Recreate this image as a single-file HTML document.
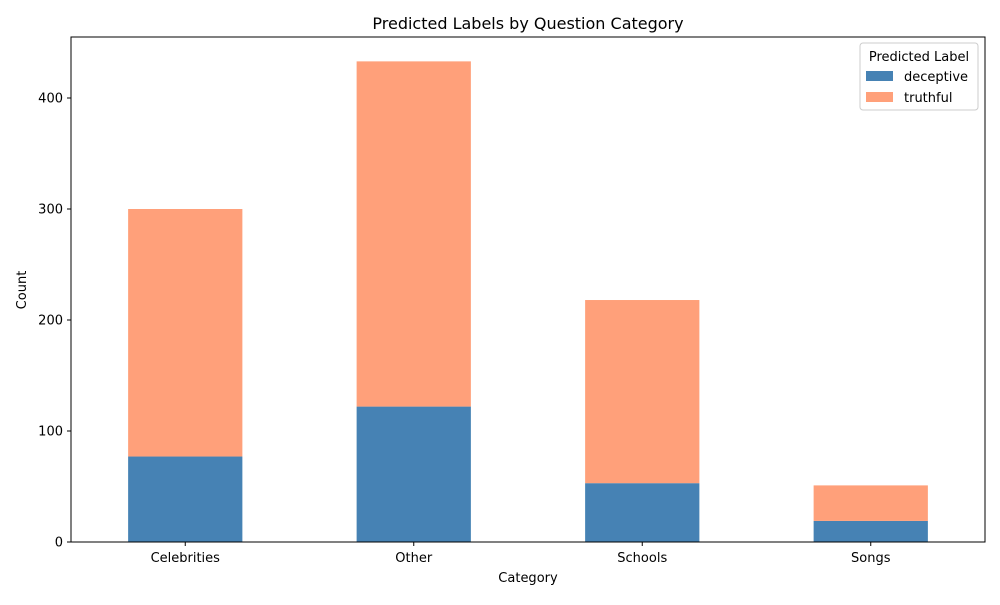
<!DOCTYPE html>
<html><head><meta charset="utf-8"><style>
body{margin:0;background:#fff;}
svg{font-family:"DejaVu Sans","Liberation Sans",sans-serif;}
</style></head><body>
<svg id="chart" width="1000" height="600">
<rect width="1000" height="600" fill="#fff"/>
<text x="528" y="29" text-anchor="middle" font-size="16">Predicted Labels by Question Category</text>
<g id="yaxis"></g><g id="bars"></g><g id="xaxis"></g>
<rect x="71" y="37" width="914" height="505" fill="none" stroke="#000" stroke-width="1"/>
<text x="528" y="582" text-anchor="middle" font-size="13">Category</text>
<text x="26" y="290" text-anchor="middle" font-size="13" transform="rotate(-90 26 290)">Count</text>
<g>
<rect x="860" y="43" width="118" height="67" fill="#fff" stroke="#ccc" rx="3"/>
<text x="919" y="61" text-anchor="middle" font-size="13">Predicted Label</text>
<g><rect x="866" y="71" width="27" height="10" fill="#4682b4"/><text x="904" y="81" font-size="13">deceptive</text></g>
<g><rect x="866" y="92" width="27" height="10" fill="#ffa07a"/><text x="904" y="102" font-size="13">truthful</text></g>
</g>
</svg>
<script>
const categories=["Celebrities","Other","Schools","Songs"];
const deceptive=[77,122,53,19];
const truthful=[223,311,165,32];
const yTicks=[0,100,200,300,400];
const ns="http://www.w3.org/2000/svg";
const x0=71,w=914,yBase=542,pxPer=1.11;
const band=w/categories.length;
const xC=i=>x0+band*(i+0.5);
const y=v=>yBase-v*pxPer;
function mk(t,a,p){const e=document.createElementNS(ns,t);for(const k in a)e.setAttribute(k,a[k]);p.appendChild(e);return e;}
const ya=document.getElementById('yaxis'),bg=document.getElementById('bars'),xa=document.getElementById('xaxis');
yTicks.forEach(v=>{
 const l=mk('line',{x1:x0-4,x2:x0,y1:y(v),y2:y(v),stroke:'#000'},ya);
 
 
 const t=mk('text',{x:x0-8,y:y(v)+4.5,'text-anchor':'end','font-size':13},ya);t.textContent=v;
 
 
});
const bw=band*0.5;
categories.forEach((c,i)=>{
 const r1=mk('rect',{x:xC(i)-bw/2,y:y(deceptive[i]),width:bw,height:deceptive[i]*pxPer,fill:'#4682b4'},bg);
 
 
 const r2=mk('rect',{x:xC(i)-bw/2,y:y(deceptive[i]+truthful[i]),width:bw,height:truthful[i]*pxPer,fill:'#ffa07a'},bg);
 
 
 const l=mk('line',{x1:xC(i),x2:xC(i),y1:yBase,y2:yBase+4,stroke:'#000'},xa);
 
 
 const t=mk('text',{x:xC(i),y:yBase+20,'text-anchor':'middle','font-size':13},xa);t.textContent=c;
 
 
});
</script>
</body></html>
